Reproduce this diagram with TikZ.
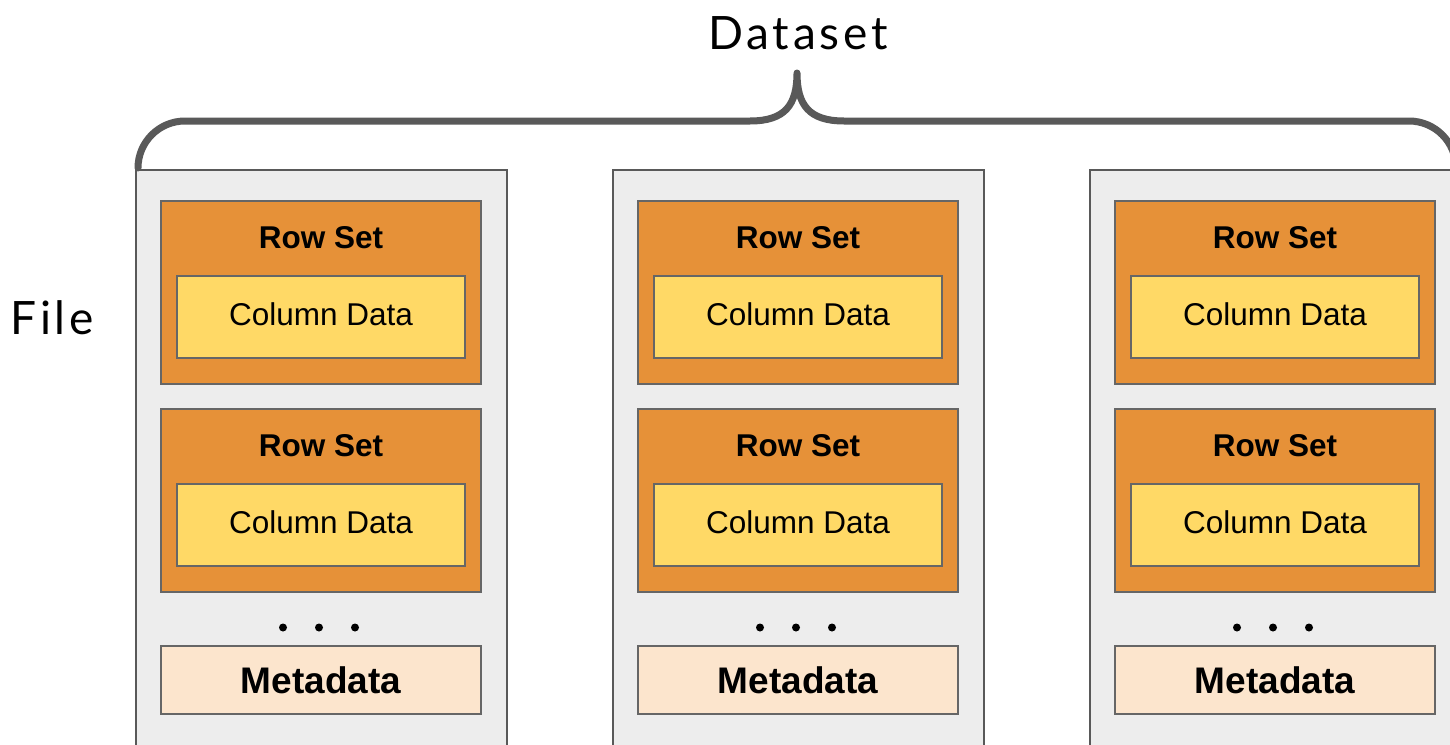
\documentclass[tikz,border=0pt]{standalone}
\usepackage{fontspec}
\setmainfont{Liberation Sans}
\newfontfamily\titlefont[LetterSpace=8]{Lato}
\definecolor{filebg}{HTML}{EDEDED}
\definecolor{fileline}{HTML}{595959}
\definecolor{boxline}{HTML}{666666}
\definecolor{rowbg}{HTML}{E69138}
\definecolor{colbg}{HTML}{FFD966}
\definecolor{metabg}{HTML}{FCE5CD}
\tikzset{
  filebox/.style={draw=fileline, fill=filebg, line width=1.5pt, anchor=north west, inner sep=0pt, outer sep=0pt, minimum width=371pt, minimum height=600pt},
  rowbox/.style={draw=boxline, fill=rowbg, line width=1.5pt, anchor=north west, inner sep=0pt, outer sep=0pt, minimum width=320pt, minimum height=183pt},
  colbox/.style={draw=boxline, fill=colbg, line width=1.5pt, anchor=north west, inner sep=0pt, outer sep=0pt, minimum width=288pt, minimum height=82pt, font=\fontsize{31.5}{36}\selectfont},
  metabox/.style={draw=boxline, fill=metabg, line width=1.5pt, anchor=north west, inner sep=0pt, outer sep=0pt, minimum width=320pt, minimum height=68pt, font=\bfseries\fontsize{37}{42}\selectfont},
  rowlabel/.style={font=\bfseries\fontsize{31.5}{36}\selectfont, inner sep=0pt},
  bigtitle/.style={font=\titlefont\fontsize{46}{50}\selectfont, inner sep=0pt},
  dotmark/.style={circle, fill=black, inner sep=0pt, minimum size=8pt},
  bracket/.style={draw=fileline, line width=7pt, line cap=round, line join=round}
}
\begin{document}
\begin{tikzpicture}[x=1pt,y=-1pt]
\clip (0,0) rectangle (1450,744);
\fill[white] (0,0) rectangle (1450,744);
\foreach \i/\dx in {1/0,2/477,3/954}{
  \node[filebox] (file\i) at (136+\dx,170) {};
  \node[rowbox] (rowa\i) at (161+\dx,201) {};
  \node[rowlabel] (rowalab\i) at (321+\dx,238) {Row Set};
  \node[colbox] (cola\i) at (177+\dx,276) {\raisebox{6pt}{Column Data}};
  \node[rowbox] (rowb\i) at (161+\dx,409) {};
  \node[rowlabel] (rowblab\i) at (321+\dx,446) {Row Set};
  \node[colbox] (colb\i) at (177+\dx,484) {\raisebox{6pt}{Column Data}};
  \node[dotmark] (dota\i) at (283+\dx,627.5) {};
  \node[dotmark] (dotb\i) at (319+\dx,627.5) {};
  \node[dotmark] (dotc\i) at (355+\dx,627.5) {};
  \node[metabox] (meta\i) at (161+\dx,646) {Metadata};
}
\node[bigtitle] (dataset) at (798,33) {Dataset};
\node[bigtitle] (filelabel) at (52,318) {File};
\coordinate (bl) at (138,168);
\coordinate (tip) at (797,73);
\draw[bracket] (bl) arc[start angle=180, end angle=270, radius=47]
  -- (750,121) .. controls (785,121) and (797,105) .. (tip)
  .. controls (797,105) and (809,121) .. (844,121)
  -- (1409,121) arc[start angle=270, end angle=360, radius=47];
\end{tikzpicture}
\end{document}
